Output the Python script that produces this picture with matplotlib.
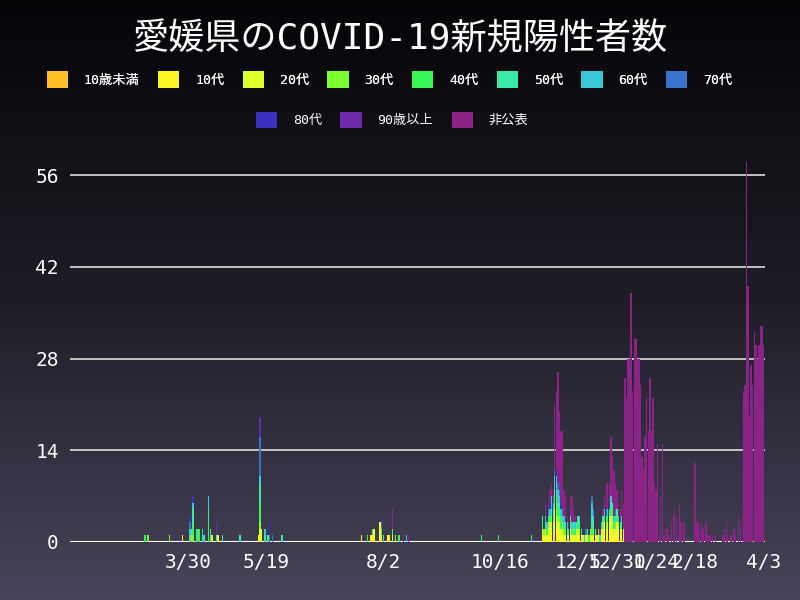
import numpy as np
import pandas as pd
import matplotlib
matplotlib.use("Agg")
import matplotlib.pyplot as plt
import matplotlib.dates as mdates
from matplotlib.patches import Patch
from matplotlib.colors import LinearSegmentedColormap

plt.rcParams['font.family'] = ['DejaVu Sans Mono', 'Noto Sans CJK JP']

groups = ['10歳未満', '10代', '20代', '30代', '40代', '50代', '60代', '70代', '80代', '90歳以上', '非公表']
colors = ['#FFBF24', '#FFF426', '#DDFF2A', '#7AFF30', '#38F558', '#3AEBA8',
          '#38C8D8', '#3A72CC', '#3A30C0', '#6E2AA8', '#8C2488']

# 2020年3月〜11月上旬（まばらなので 日付, 年代, 人数 の並び）
early_dates = ['2020-03-02', '2020-03-04', '2020-03-18', '2020-03-26',
               '2020-03-31', '2020-03-31', '2020-03-31', '2020-03-31',
               '2020-04-01', '2020-04-01',
               '2020-04-02', '2020-04-02', '2020-04-02', '2020-04-02', '2020-04-02',
               '2020-04-04', '2020-04-05', '2020-04-06', '2020-04-08', '2020-04-09',
               '2020-04-12', '2020-04-12', '2020-04-12', '2020-04-13', '2020-04-14',
               '2020-04-17', '2020-04-17', '2020-04-18', '2020-04-21', '2020-05-02',
               '2020-05-14', '2020-05-15', '2020-05-15', '2020-05-15', '2020-05-15',
               '2020-05-15', '2020-05-15', '2020-05-15', '2020-05-15',
               '2020-05-16', '2020-05-18', '2020-05-18', '2020-05-20', '2020-05-21',
               '2020-05-21', '2020-05-23', '2020-05-29',
               '2020-07-19', '2020-07-23', '2020-07-25', '2020-07-26', '2020-07-26',
               '2020-07-27', '2020-07-31', '2020-08-01', '2020-08-01', '2020-08-01',
               '2020-08-01', '2020-08-02', '2020-08-05', '2020-08-06', '2020-08-08',
               '2020-08-08', '2020-08-08', '2020-08-10', '2020-08-12', '2020-08-15',
               '2020-08-17', '2020-08-18', '2020-10-04', '2020-10-15', '2020-11-05']
early_groups = ['40代', '30代', '30代', '10代',
                '50代', '70代', '80代', '60代',
                '10歳未満', '50代',
                '40代', '50代', '60代', '80代', '30代',
                '50代', '40代', '40代', '60代', '50代',
                '40代', '50代', '60代', '50代', '20代',
                '50代', '90歳以上', '10代', '50代', '50代',
                '10代', '20代', '30代', '40代', '50代',
                '60代', '70代', '80代', '90歳以上',
                '20代', '50代', '60代', '50代', '70代',
                '80代', '70代', '50代',
                '10代', '40代', '20代', '10代', '50代',
                '10代', '10代', '20代', '50代', '70代',
                '80代', '50代', '10代', '20代', '10代',
                '40代', '非公表', '30代', '40代', '90歳以上',
                '60代', '90歳以上', '40代', '40代', '40代']
early_counts = [1, 1, 1, 1,
                1, 1, 1, 1,
                1, 1,
                2, 2, 1, 1, 1,
                2, 2, 2, 2, 1,
                3, 2, 2, 2, 1,
                1, 2, 1, 1, 1,
                1, 2, 1, 3, 3,
                1, 6, 1, 2,
                2, 1, 1, 1, 1,
                2, 1, 1,
                1, 1, 1, 1, 1,
                2, 3, 1, 1, 1,
                1, 1, 1, 1, 1,
                1, 3, 1, 1, 1,
                1, 1, 1, 1, 1]

# 2020-11-12 〜 2021-01-03 の日別（年代別）
late_start = '2020-11-12'
u10 = [0]*8 + [1] + [0]*44
t10 = [1,0,1,0,1,1,2,1,2,2,2,1,1,1,0,1,0,1,1,0,1,0,1,1,0,1,0,0,1,0,0,1,0,1,0,1,0,0,1,1,2,1,1,2,2,1,1,1,2,1,1,1,1]
t20 = [1,1,1,1,1,2,1,2,2,2,1,2,1,1,1,0,1,0,1,1,0,1,1,1,1,0,1,0,0,1,0,0,1,0,1,0,1,0,1,1,1,1,2,1,2,2,1,1,1,1,1,1,1]
t30 = [0,1,0,0,1,0,1,0,1,1,1,1,0,1,1,0,1,0,0,0,1,0,0,0,1,0,0,0,0,0,0,1,0,1,0,0,0,0,0,1,0,1,0,1,0,1,0,1,0,1,0,0,0]
t40 = [1,0,0,1,0,1,0,1,1,2,1,1,1,0,0,1,0,0,1,0,0,1,0,1,0,1,0,0,0,0,1,0,1,0,0,0,1,0,0,0,1,0,1,0,1,1,1,0,1,0,0,1,0]
t50 = [1,0,1,0,1,0,1,1,1,1,1,1,1,0,1,1,0,1,1,1,1,0,1,1,1,0,0,0,0,1,0,0,2,1,1,0,0,1,0,1,0,1,0,1,1,1,0,1,1,0,1,0,0]
t60 = [0,0,1,1,0,1,2,1,2,2,2,1,1,1,1,0,1,0,0,1,0,1,0,0,1,0,0,1,0,0,0,0,2,1,0,0,0,0,1,0,1,0,1,0,1,0,1,0,0,1,0,1,0]
t70 = [0,0,0,0,1,0,0,1,1,0,1,1,0,1,0,0,0,0,0,0,0,0,0,0,0,0,0,0,1,0,0,0,1,1,0,0,0,0,0,0,0,1,0,0,0,0,0,1,0,0,0,0,0]
t80 = [0,0,0,0,0,1,0,0,0,1,0,0,1,0,0,0,0,0,0,0,0,0,0,0,0,0,0,0,0,0,0,0,0,0,0,0,0,0,0,0,0,0,0,1,0,0,0,0,0,0,0,0,0]
t90 = [0]*10 + [1] + [0]*42
undisclosed = [0,0,2,0,1,2,2,1,10,12,16,12,11,12,4,4,1,1,3,4,2,1,0,0,0,0,0,0,0,0,0,0,0,0,0,0,0,1,0,1,2,4,4,3,9,7,7,4,3,1,2,4,4]

# 2021-01-04 〜 2021-04-03 は非公表のみ
tail_start = '2021-01-04'
undisclosed_tail = [25, 22, 28, 28, 38, 23, 31, 31, 28, 28, 24, 13, 11, 16, 22, 17, 25, 17, 22, 9,
                    8, 15, 1, 7, 15, 1, 0, 2, 1, 0, 3, 4, 5, 4, 0, 6, 3, 0, 3, 0,
                    0, 0, 0, 0, 0, 12, 3, 3, 2, 3, 2, 0, 3, 1, 1, 1, 1, 0, 1, 0,
                    0, 0, 0, 1, 2, 3, 1, 0, 1, 0, 2, 1, 0, 4, 3, 0, 23, 24, 58, 39,
                    19, 27, 24, 32, 30, 28, 30, 33, 33, 30]

days = pd.date_range('2020-03-01', '2021-04-03', freq='D')
df = pd.DataFrame(0, index=days, columns=groups)
for d, g, c in zip(early_dates, early_groups, early_counts):
    df.loc[pd.Timestamp(d), g] += c
late_idx = pd.date_range(late_start, periods=len(t10), freq='D')
for g, vals in zip(groups, [u10, t10, t20, t30, t40, t50, t60, t70, t80, t90, undisclosed]):
    df.loc[late_idx, g] += vals
tail_idx = pd.date_range(tail_start, periods=len(undisclosed_tail), freq='D')
tail_idx = tail_idx[tail_idx <= days[-1]]
df.loc[tail_idx, '非公表'] += undisclosed_tail[:len(tail_idx)]

fig = plt.figure(figsize=(8, 6), dpi=100)
bg = fig.add_axes([0, 0, 1, 1], zorder=-10)
grad = np.linspace(0, 1, 256).reshape(-1, 1)
cmap = LinearSegmentedColormap.from_list('bg', ['#050508', '#1e1d26', '#48435a'])
bg.imshow(grad, aspect='auto', cmap=cmap, extent=[0, 1, 0, 1])
bg.axis('off')

ax = fig.add_axes([0.0875, 0.0967, 0.869, 0.653])
ax.patch.set_alpha(0)
x = mdates.date2num(df.index)
bottom = np.zeros(len(df))
for g, col in zip(groups, colors):
    v = df[g].values
    ax.bar(x, v, width=0.9, bottom=bottom, color=col, linewidth=0, zorder=3)
    bottom += v

ax.set_ylim(0, 59.8)
ax.set_xlim(mdates.date2num(pd.Timestamp('2020-01-14')), mdates.date2num(pd.Timestamp('2021-04-04')))
ax.set_yticks([0, 14, 28, 42, 56])
ax.yaxis.grid(True, color='#dddddd', linewidth=1.2, zorder=1)
ax.axhline(0, color='white', linewidth=1.5, zorder=2)
tick_dates = ['2020-03-30', '2020-05-19', '2020-08-02', '2020-10-16', '2020-12-05',
              '2020-12-30', '2021-01-24', '2021-02-18', '2021-04-03']
tick_labels = ['3/30', '5/19', '8/2', '10/16', '12/5', '12/30', '1/24', '2/18', '4/3']
ax.set_xticks(mdates.date2num(pd.to_datetime(tick_dates)))
ax.set_xticklabels(tick_labels)
ax.tick_params(colors='white', labelsize=14, length=0, pad=8)
for s in ax.spines.values():
    s.set_visible(False)

fig.text(0.5, 0.935, '愛媛県のCOVID-19新規陽性者数', color='white', fontsize=26,
         ha='center', va='center')

handles = [Patch(facecolor=c, edgecolor='none') for c in colors]
leg1 = fig.legend(handles[:8], groups[:8], loc='center', bbox_to_anchor=(0.487, 0.867), ncol=8,
                  frameon=False, fontsize=9.5, labelcolor='white', handlelength=1.6, handleheight=1.6,
                  handletextpad=1.2, columnspacing=1.4)
fig.legend(handles[8:], groups[8:], loc='center', bbox_to_anchor=(0.49, 0.8), ncol=3,
           frameon=False, fontsize=9.5, labelcolor='white', handlelength=1.6, handleheight=1.6,
           handletextpad=1.2, columnspacing=1.4)
fig.add_artist(leg1)

fig.savefig('out.png', dpi=100)
